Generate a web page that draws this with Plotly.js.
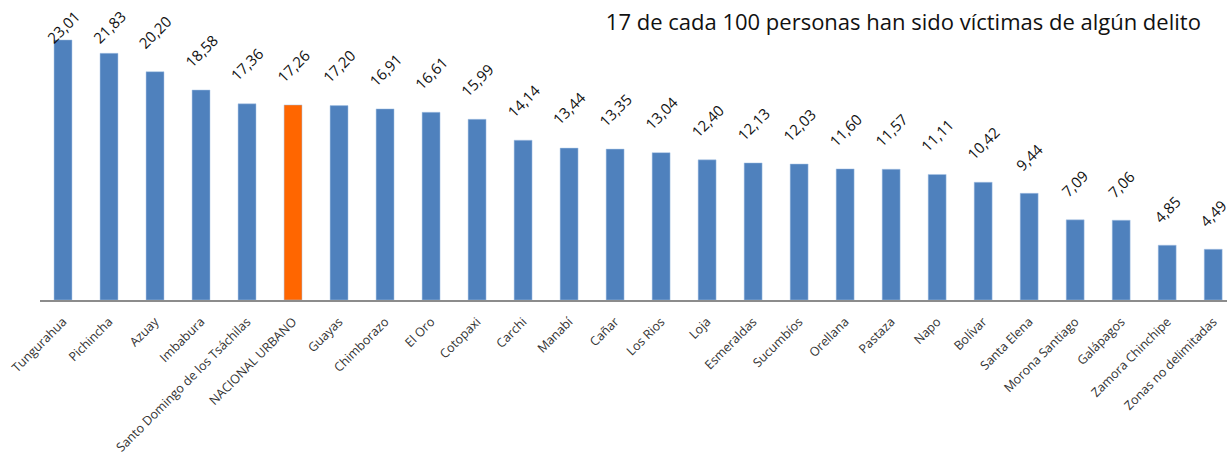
<!DOCTYPE html>
<html>
<head>
<meta charset="utf-8">
<script src="https://cdn.plot.ly/plotly-3.0.1.min.js"></script>
<style>html,body{margin:0;padding:0;background:#fff;}#chart{width:1227px;height:458px;}</style>
</head>
<body>
<div id="chart"></div>
<script>
const categories = ["Tungurahua","Pichincha","Azuay","Imbabura","Santo Domingo de los Tsáchilas","NACIONAL URBANO","Guayas","Chimborazo","El Oro","Cotopaxi","Carchi","Manabí","Cañar","Los Rios","Loja","Esmeraldas","Sucumbíos","Orellana","Pastaza","Napo","Bolívar","Santa Elena","Morona Santiago","Galápagos","Zamora Chinchipe","Zonas no delimitadas"];
const values = [23.01,21.83,20.20,18.58,17.36,17.26,17.20,16.91,16.61,15.99,14.14,13.44,13.35,13.04,12.40,12.13,12.03,11.60,11.57,11.11,10.42,9.44,7.09,7.06,4.85,4.49];
const highlight = "NACIONAL URBANO";
const titleText = "17 de cada 100 personas han sido víctimas de algún delito";

const colors = categories.map(c => c === highlight ? "#FF6600" : "#4F81BD");
const fmt = v => v.toFixed(2).replace(".", ",");

const H = 458, T = 10, B = 158, YMAX = 25.66;
const plotH = H - T - B;
const LABEL_H = 36, GAP = 16, MIN_TOP = 14;

const annotations = categories.map((c, i) => {
  const topPx = T + plotH * (1 - values[i] / YMAX);
  let shift = GAP;
  if (topPx - shift - LABEL_H < MIN_TOP) shift = topPx - LABEL_H - MIN_TOP;
  return {
    x: c, y: values[i], xref: "x", yref: "y",
    text: fmt(values[i]), showarrow: false,
    textangle: -45, xanchor: "center", yanchor: "bottom",
    yshift: shift, xshift: 0,
    font: {family: "Open Sans, Lato, sans-serif", size: 15, color: "#111"}
  };
});

const trace = {
  type: "bar",
  x: categories,
  y: values,
  width: 0.39,
  marker: {color: colors, line: {color: "#A9C4E6", width: 0.5}},
  hoverinfo: "x+y"
};

const layout = {
  width: 1227, height: H,
  margin: {l: 40, r: 0, t: T, b: B},
  paper_bgcolor: "#fff", plot_bgcolor: "#fff",
  showlegend: false,
  title: {
    text: titleText,
    font: {family: "Open Sans, Lato, sans-serif", size: 22, color: "#111"},
    x: 0.978, xanchor: "right", xref: "paper",
    y: 0.952, yanchor: "middle"
  },
  annotations: annotations,
  xaxis: {
    range: [-0.5, 25.3],
    tickangle: -45,
    ticklabelstandoff: 8,
    tickfont: {family: "Open Sans, Lato, sans-serif", size: 12.5, color: "#333"},
    showline: true, linecolor: "#8c8c8c", linewidth: 1.5,
    ticks: "", showgrid: false, zeroline: false, fixedrange: true
  },
  yaxis: {
    range: [0, YMAX],
    visible: false, showgrid: false, zeroline: false, fixedrange: true
  }
};

Plotly.newPlot("chart", [trace], layout, {displayModeBar: false, staticPlot: true});
</script>
</body>
</html>
